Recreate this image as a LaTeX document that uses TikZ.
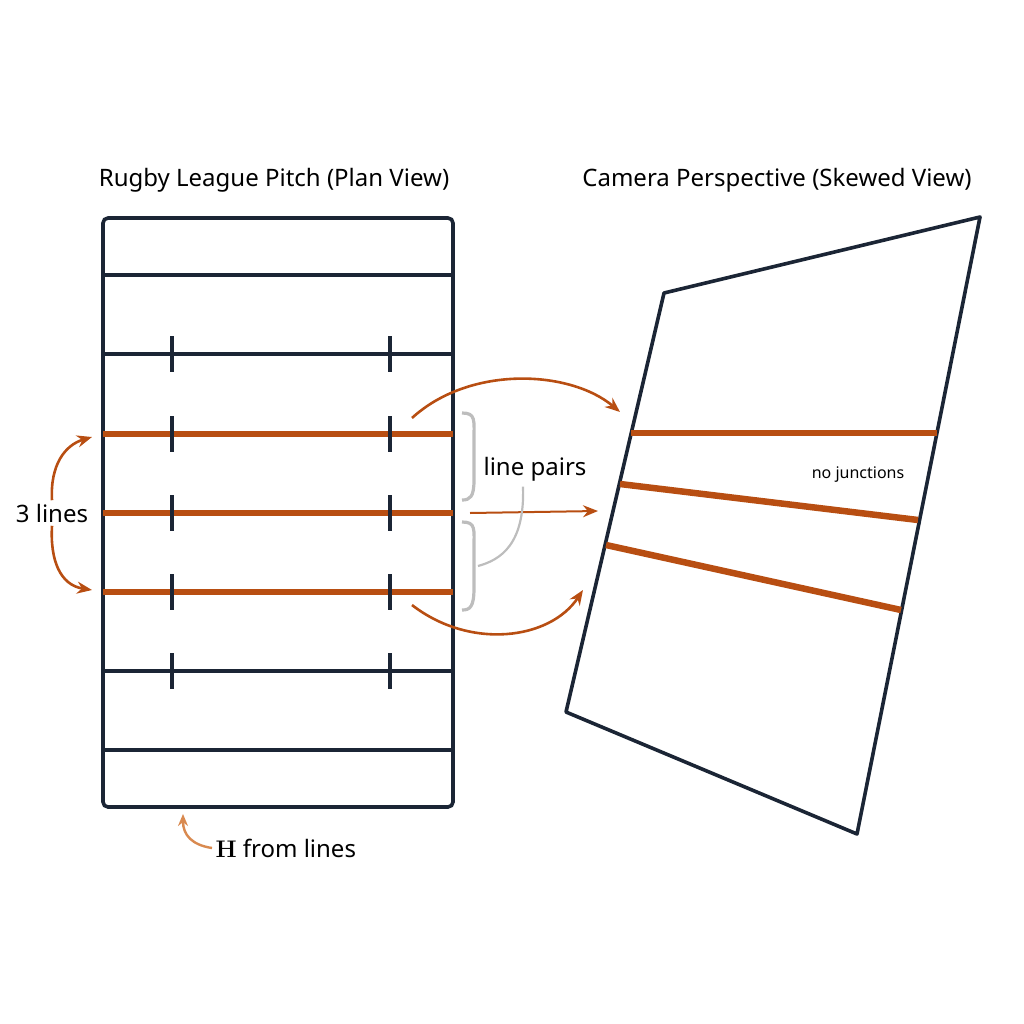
\documentclass[tikz,border=0pt]{standalone}
\usepackage{fontspec}
\setmainfont{Noto Sans}
\newfontfamily\lmr{Latin Modern Roman}
\usetikzlibrary{arrows.meta}
\definecolor{navy}{HTML}{1B2535}
\definecolor{rust}{HTML}{B84E12}
\definecolor{lrust}{HTML}{D98A50}
\definecolor{gry}{HTML}{BDBDBD}
\begin{document}
\begin{tikzpicture}[x=1pt,y=-1pt,
  pl/.style={draw=navy,line width=3.6pt},
  ol/.style={draw=rust,line width=6.5pt},
  oa/.style={draw=rust,line width=2.6pt,-{Stealth[length=15pt,width=12pt]}},
  lbl/.style={font=\fontsize{24}{28}\selectfont,text=black}]
\useasboundingbox (0,0) rectangle (1024,1024);
\node[lbl] (t1) at (274,180) {Rugby League Pitch (Plan View)};
\node[lbl] (t2) at (777,180) {Camera Perspective (Skewed View)};
\draw[pl,rounded corners=5pt] (103,218) rectangle (453,807);
\foreach \y in {275,354,671,750} \draw[pl] (103,\y) -- (453,\y);
\foreach \y in {434,513,592} \draw[ol] (103,\y) -- (453,\y);
\foreach \y in {354,434,513,592,671} {\draw[pl,line width=3.2pt] (172,\y-18) -- (172,\y+18); \draw[pl,line width=3.2pt] (390,\y-18) -- (390,\y+18);}
\draw[pl,line join=round] (664,293) -- (980,217) -- (857,834) -- (566,712) -- cycle;
\draw[ol] (631,433) -- (937,433);
\draw[ol] (620,484) -- (918,520);
\draw[ol] (606,545) -- (901,610);
\node[font=\fontsize{16}{19}\selectfont] (nj) at (858,475) {no junctions};
\coordinate (a1) at (412,418); \coordinate (b1) at (620,412);
\draw[oa] (a1) .. controls (470,365) and (570,370) .. (b1);
\coordinate (a2) at (470,513); \coordinate (b2) at (598,511);
\draw[oa,line width=2pt] (a2) -- (b2);
\coordinate (a3) at (412,605); \coordinate (b3) at (583,590);
\draw[oa] (a3) .. controls (470,650) and (550,640) .. (b3);
\draw[gry,line width=3.2pt] (462,413) .. controls (476,413) and (474,420) .. (474,440) -- (474,480) .. controls (474,497) and (470,500) .. (462,500);
\draw[gry,line width=3.2pt] (462,522) .. controls (476,522) and (474,529) .. (474,548) -- (474,588) .. controls (474,607) and (470,610) .. (462,610);
\node[lbl] (lp) at (535,469) {line pairs};
\draw[gry,line width=2.2pt] (lp.south) ++(-12,2) .. controls (525,545) and (500,560) .. (478,566);
\node[lbl] (l3) at (52,513) {3 lines};
\coordinate (c1) at (92,437); \coordinate (c2) at (92,590);
\draw[oa] (l3.north) .. controls (50,465) and (65,445) .. (c1);
\draw[oa] (l3.south) .. controls (50,560) and (60,585) .. (c2);
\node[lbl,anchor=west] (hl) at (212,848) {{\lmr\bfseries H} from lines};
\coordinate (hd) at (183,814);
\draw[draw=lrust,line width=2.4pt,-{Stealth[length=12pt,width=10pt]}] (hl.west) .. controls (192,845) and (183,835) .. (hd);
\end{tikzpicture}
\end{document}
